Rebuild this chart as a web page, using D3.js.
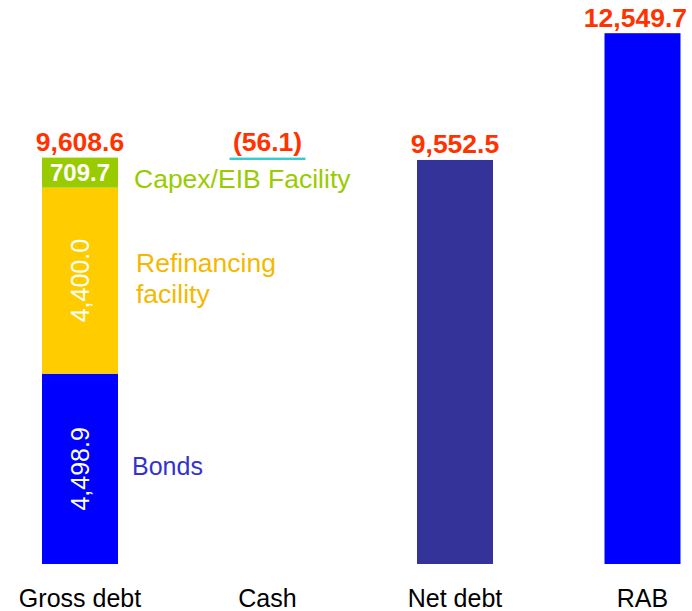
<!DOCTYPE html>
<meta charset="utf-8">
<style>
body { margin: 0; background: #fff; }
svg text { font-family: "Liberation Sans", Arial, sans-serif; }
.val { font-size: 26.5px; font-weight: bold; fill: #FF3300; }
.cat { font-size: 25px; fill: #000; }
.inner { fill: #fff; }
</style>
<svg width="692" height="611"></svg>
<script src="https://d3js.org/d3.v7.min.js"></script>
<script>

// data
var categories = ["Gross debt", "Cash", "Net debt", "RAB"];
var grossParts = ["Bonds", "Refinancing facility", "Capex/EIB Facility"];
var grossValues = [4498.9, 4400.0, 709.7];
var cashValue = -56.1;
var netDebt = 9552.5;
var rab = 12549.7;

var partColors = ["#0000FF", "#FFCC00", "#99CC00"];
var partTextColors = ["#3333CC", "#F5B800", "#99CC00"];

var svg = d3.select("svg");

var barW = 76;

var x = d3.scalePoint()
    .domain(categories)
    .range([80, 642.5]);

var y = d3.scaleLinear()
    .domain([0, rab])
    .range([564, 33.2]);

var fmt = d3.format(",.1f");

// stacked gross debt
var grossTotal = d3.sum(grossValues);
var stack = [];
var acc = 0;
grossValues.forEach(function(v, i) {
  stack.push({name: grossParts[i], v0: acc, v1: acc + v, value: v, i: i});
  acc += v;
});

var g = svg.append("g");

g.selectAll(".part")
  .data(stack)
  .join("rect")
    .attr("class", "part")
    .attr("x", x("Gross debt") - barW / 2)
    .attr("width", barW)
    .attr("y", d => y(d.v1))
    .attr("height", d => y(d.v0) - y(d.v1))
    .attr("fill", d => partColors[d.i]);

// cash (floating step)
g.append("rect")
    .attr("x", x("Cash") - barW / 2)
    .attr("width", barW)
    .attr("y", y(grossTotal))
    .attr("height", y(grossTotal + cashValue) - y(grossTotal))
    .attr("fill", "#33CCCC");

// net debt & RAB
var singles = [
  {cat: "Net debt", value: netDebt, color: "#333399"},
  {cat: "RAB", value: rab, color: "#0000FF"}
];
g.selectAll(".single")
  .data(singles)
  .join("rect")
    .attr("class", "single")
    .attr("x", d => x(d.cat) - barW / 2)
    .attr("width", barW)
    .attr("y", d => y(d.value))
    .attr("height", d => y(0) - y(d.value))
    .attr("fill", d => d.color);

// top labels
var tops = [
  {cat: "Gross debt", top: grossTotal, text: fmt(grossTotal)},
  {cat: "Cash", top: grossTotal, text: "(" + fmt(-cashValue) + ")"},
  {cat: "Net debt", top: netDebt, text: fmt(netDebt)},
  {cat: "RAB", top: rab, text: fmt(rab)}
];
g.selectAll(".val")
  .data(tops)
  .join("text")
    .attr("class", "val")
    .attr("text-anchor", "middle")
    .attr("x", d => x(d.cat))
    .attr("y", d => y(d.top) - 6.5)
    .text(d => d.text)
    .attr("x", function(d) {
      // keep label inside the right edge
      var w = this.getComputedTextLength();
      return Math.min(x(d.cat), 687 - w / 2);
    });

// inner labels
var cx = x("Gross debt");
stack.forEach(function(d) {
  var mid = (y(d.v0) + y(d.v1)) / 2;
  if (d.i === 2) {
    g.append("text")
        .attr("class", "inner")
        .attr("text-anchor", "middle")
        .attr("font-size", 24)
        .attr("font-weight", "bold")
        .attr("x", cx)
        .attr("y", mid + 8)
        .text(fmt(d.value));
  } else {
    g.append("text")
        .attr("class", "inner")
        .attr("text-anchor", "middle")
        .attr("font-size", 25)
        .attr("transform", "translate(" + (cx + 9) + "," + mid + ") rotate(-90)")
        .text(fmt(d.value));
  }
});

// series labels
var seriesPos = [
  {lines: ["Bonds"], x: 132, y: 475, size: 25},
  {lines: ["Refinancing", "facility"], x: 136, y: 272, size: 26.5},
  {lines: ["Capex/EIB Facility"], x: 134, y: 188, size: 26.5}
];
seriesPos.forEach(function(p, i) {
  var t = g.append("text")
      .attr("fill", partTextColors[i])
      .attr("font-size", p.size)
      .attr("x", p.x)
      .attr("y", p.y);
  p.lines.forEach(function(l, j) {
    t.append("tspan")
        .attr("x", p.x)
        .attr("dy", j === 0 ? 0 : 31)
        .text(l);
  });
});

// category labels
g.selectAll(".cat")
  .data(categories)
  .join("text")
    .attr("class", "cat")
    .attr("text-anchor", "middle")
    .attr("x", d => x(d))
    .attr("y", 607)
    .text(d => d);

</script>
